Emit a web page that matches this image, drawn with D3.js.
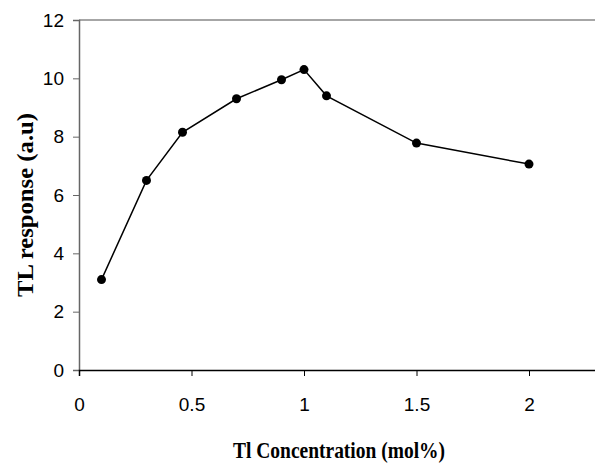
<!DOCTYPE html>
<html>
<head>
<meta charset="utf-8">
<script src="https://cdn.jsdelivr.net/npm/d3@7"></script>
<style>
  body { margin: 0; background: #fff; }
  svg { display: block; }
</style>
</head>
<body>
<div id="chart"></div>
<script>
// data
const concentration = [0.1, 0.3, 0.46, 0.7, 0.9, 1.0, 1.1, 1.5, 2.0];
const tlResponse = [3.1, 6.5, 8.15, 9.3, 9.95, 10.3, 9.4, 7.78, 7.06];
const xTicks = [0, 0.5, 1, 1.5, 2];
const yTicks = [0, 2, 4, 6, 8, 10, 12];

const width = 595;
const height = 463;
const margin = {left: 79, top: 20, bottom: 93};

let svg = d3.select("#chart")
  .append("svg")
  .attr("width", width)
  .attr("height", height);

// plot area runs past the right edge of the picture
let xScale = d3.scaleLinear()
  .domain([0, 2.5])
  .range([margin.left, margin.left + 2.5 * 225]);

let yScale = d3.scaleLinear()
  .domain([0, 12])
  .range([height - margin.bottom, margin.top]);

// top frame line
svg.append("line")
  .attr("x1", xScale(0)).attr("x2", width)
  .attr("y1", yScale(12)).attr("y2", yScale(12))
  .attr("stroke", "#888").attr("stroke-width", 1.5);

// y axis
let yAxis = svg.append("g")
  .attr("transform", `translate(${margin.left},0)`)
  .call(d3.axisLeft(yScale).tickValues(yTicks).tickSize(6).tickPadding(9).tickFormat(d3.format("d")));
yAxis.select(".domain").attr("stroke", "#666").attr("stroke-width", 1.5);
yAxis.selectAll(".tick line").attr("stroke", "#666");
yAxis.selectAll("text")
  .attr("font-family", "Liberation Sans, Arial, sans-serif")
  .attr("font-size", "19px")
  .attr("fill", "#000");

// x axis
let xAxis = svg.append("g")
  .attr("transform", `translate(0,${yScale(0)})`)
  .call(d3.axisBottom(xScale).tickValues(xTicks).tickSize(6).tickPadding(22).tickFormat(d => d));
xAxis.select(".domain").attr("stroke", "#000").attr("stroke-width", 1.5);
xAxis.selectAll(".tick line").attr("stroke", "#000");
xAxis.selectAll("text")
  .attr("font-family", "Liberation Sans, Arial, sans-serif")
  .attr("font-size", "19px")
  .attr("fill", "#000");

// line + markers
let line = d3.line()
  .x((d, i) => xScale(concentration[i]))
  .y(d => yScale(d));

svg.append("path")
  .datum(tlResponse)
  .attr("fill", "none")
  .attr("stroke", "#000")
  .attr("stroke-width", 1.5)
  .attr("d", line);

svg.selectAll("circle")
  .data(tlResponse)
  .enter()
  .append("circle")
    .attr("cx", (d, i) => xScale(concentration[i]))
    .attr("cy", d => yScale(d))
    .attr("r", 4.5)
    .attr("fill", "#000");

// axis titles (narrow bold serif, squeezed to the original width)
svg.append("text")
  .attr("x", 339)
  .attr("y", 458)
  .attr("text-anchor", "middle")
  .attr("font-family", "Liberation Serif, Times New Roman, serif")
  .attr("font-weight", "bold")
  .attr("font-size", "23px")
  .attr("textLength", 212)
  .attr("lengthAdjust", "spacingAndGlyphs")
  .text("Tl Concentration (mol%)");

svg.append("text")
  .attr("transform", "translate(33,205) rotate(-90)")
  .attr("text-anchor", "middle")
  .attr("font-family", "Liberation Serif, Times New Roman, serif")
  .attr("font-weight", "bold")
  .attr("font-size", "23px")
  .attr("textLength", 184)
  .attr("lengthAdjust", "spacingAndGlyphs")
  .text("TL response (a.u)");
</script>
</body>
</html>
